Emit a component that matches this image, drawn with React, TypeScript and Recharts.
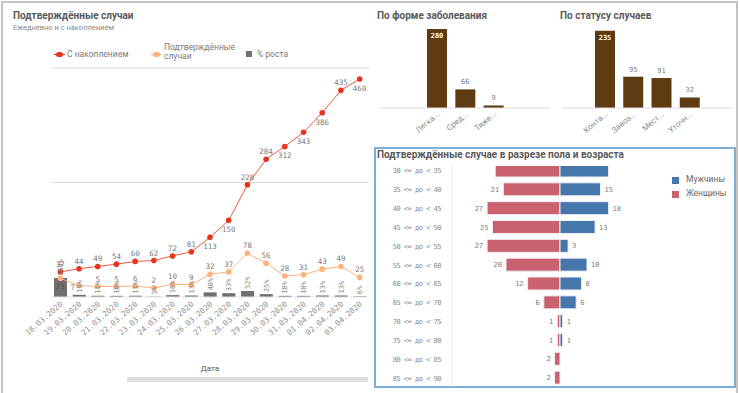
import React from 'react'
import {
  ComposedChart,
  BarChart,
  Bar,
  Line,
  XAxis,
  YAxis,
  ReferenceLine,
  LabelList,
} from 'recharts'

// --- Подтверждённые случаи (по дням)
const DATES = [
  '18.03.2020', '19.03.2020', '20.03.2020', '21.03.2020', '22.03.2020', '23.03.2020',
  '24.03.2020', '25.03.2020', '26.03.2020', '27.03.2020', '28.03.2020', '29.03.2020',
  '30.03.2020', '31.03.2020', '01.04.2020', '02.04.2020', '03.04.2020',
]
const CUMULATIVE = [37, 44, 49, 54, 60, 62, 72, 81, 113, 150, 228, 284, 312, 343, 386, 435, 460]
const DAILY = [23, 7, 5, 5, 6, 2, 10, 9, 32, 37, 78, 56, 28, 31, 43, 49, 25]
const GROWTH = [164, 19, 11, 10, 11, 3, 16, 13, 40, 33, 52, 25, 10, 10, 13, 13, 6]

// --- По форме заболевания / по статусу
const FORM_CATEGORIES = ['Легка...', 'Сред...', 'Тяже...']
const FORM_VALUES = [280, 66, 9]
const STATUS_CATEGORIES = ['Конта...', 'Завоз...', 'Мест...', 'Уточн...']
const STATUS_VALUES = [235, 95, 91, 32]

// --- Пол и возраст
const AGE_GROUPS = [
  '30 <= до < 35', '35 <= до < 40', '40 <= до < 45', '45 <= до < 50',
  '50 <= до < 55', '55 <= до < 60', '60 <= до < 65', '65 <= до < 70',
  '70 <= до < 75', '75 <= до < 80', '80 <= до < 85', '85 <= до < 90',
]
const MEN = [18, 15, 18, 13, 3, 10, 8, 6, 1, 1, 0, 0]
const WOMEN = [24, 21, 27, 25, 27, 20, 12, 6, 1, 1, 2, 2]

// cumulative labels that Qlik put under the point
const CUM_BELOW = [8, 9, 12, 13, 14, 16]

const MONO = '"DejaVu Sans Mono", monospace'
const SANS = 'Roboto, "Noto Sans", sans-serif'
const LABEL_GRAY = '#7c7c7c'

const dailyRows = DATES.map((d, i) => ({
  date: d,
  cum: CUMULATIVE[i],
  daily: DAILY[i],
  growth: GROWTH[i],
}))
const formRows = FORM_CATEGORIES.map((c, i) => ({ name: c, value: FORM_VALUES[i] }))
const statusRows = STATUS_CATEGORIES.map((c, i) => ({ name: c, value: STATUS_VALUES[i] }))
const ageRows = AGE_GROUPS.map((a, i) => ({ age: a, men: MEN[i], women: -WOMEN[i] }))

const DateTick = (props: any) => {
  const { x, y, payload } = props
  const tx = x + 3
  const ty = y
  return (
    <text
      x={tx}
      y={ty}
      transform={`rotate(-41 ${tx} ${ty})`}
      textAnchor="end"
      fontFamily={MONO}
      fontSize={7.8}
      fill="#939393"
    >
      {payload.value}
    </text>
  )
}

const CatTick = (props: any) => {
  const { x, y, payload } = props
  return (
    <text
      x={x + 3}
      y={y - 1}
      transform={`rotate(-40 ${x + 3} ${y - 1})`}
      textAnchor="end"
      fontFamily={SANS}
      fontSize={8}
      fill="#8a8a8a"
    >
      {payload.value}
    </text>
  )
}

const AgeTick = (props: any) => {
  const { x, y, payload } = props
  return (
    <text
      x={x - 3}
      y={y + 3}
      textAnchor="end"
      fontFamily={MONO}
      fontSize={7}
      letterSpacing={-0.5}
      fill="#8a8a8a"
    >
      {payload.value}
    </text>
  )
}

const cumLabel = (props: any) => {
  const { x, y, value, index } = props
  const below = CUM_BELOW.includes(index)
  return (
    <text x={x} y={below ? y + 12 : y - 5} textAnchor="middle" fontFamily={MONO} fontSize={7.5} fill={LABEL_GRAY}>
      {value}
    </text>
  )
}

const dailyLabel = (props: any) => {
  const { x, y, value, index } = props
  if (index === 0)
    return (
      <text x={x} y={y + 11} textAnchor="middle" fontFamily={MONO} fontSize={7.5} fill="#555">
        {value}
      </text>
    )
  if (index === 1)
    return (
      <text x={x - 4} y={y + 4} textAnchor="end" fontFamily={MONO} fontSize={7.5} fill={LABEL_GRAY}>
        {value}
      </text>
    )
  return (
    <text x={x} y={y - 5} textAnchor="middle" fontFamily={MONO} fontSize={7.5} fill={LABEL_GRAY}>
      {value}
    </text>
  )
}

const growthLabel = (props: any) => {
  const { x, y, width, value } = props
  const cx = x + width / 2 + 2.5
  const ty = y - 2
  return (
    <text
      x={cx}
      y={ty}
      transform={`rotate(-90 ${cx} ${ty})`}
      textAnchor="start"
      fontFamily={MONO}
      fontSize={7}
      fill="#8a8a8a"
    >
      {value}%
    </text>
  )
}

const topBarLabel = (props: any) => {
  const { x, y, width, value, index } = props
  const cx = x + width / 2
  if (index === 0)
    return (
      <text x={cx} y={y + 9} textAnchor="middle" fontFamily={MONO} fontSize={7} fontWeight="bold" fill="#fff">
        {value}
      </text>
    )
  return (
    <text x={cx} y={y - 5} textAnchor="middle" fontFamily={MONO} fontSize={7} fill={LABEL_GRAY}>
      {value}
    </text>
  )
}

// the top row is scrolled half out of view, Qlik shows no values for it
const menLabel = (props: any) => {
  const { x, y, width, height, value, index } = props
  if (!value || index === 0) return null
  const right = Math.max(x, x + width)
  return (
    <text x={right + 4} y={y + height / 2 + 2.5} fontFamily={MONO} fontSize={7} fill={LABEL_GRAY}>
      {value}
    </text>
  )
}

const womenLabel = (props: any) => {
  const { x, y, width, height, value, index } = props
  if (!value || index === 0) return null
  const left = Math.min(x, x + width)
  return (
    <text x={left - 4} y={y + height / 2 + 2.5} textAnchor="end" fontFamily={MONO} fontSize={7} fill={LABEL_GRAY}>
      {Math.abs(value)}
    </text>
  )
}

const Title = ({ x, y, children }: { x: number; y: number; children: React.ReactNode }) => (
  <div
    style={{
      position: 'absolute',
      left: x,
      top: y,
      fontFamily: SANS,
      fontWeight: 700,
      fontSize: 10,
      color: '#595959',
      whiteSpace: 'nowrap',
    }}
  >
    {children}
  </div>
)

export default function App() {
  return (
    <div
      style={{
        position: 'absolute',
        left: 0,
        top: 0,
        width: 740,
        height: 393,
        background: '#fff',
        overflow: 'hidden',
        fontFamily: SANS,
      }}
    >
      {/* outer frame */}
      <div
        style={{
          position: 'absolute',
          left: 1,
          top: 1,
          width: 733,
          height: 400,
          border: '2px solid #c4c4c4',
        }}
      />

      {/* ---------- left: подтверждённые случаи ---------- */}
      <Title x={13} y={10}>Подтверждённые случаи</Title>
      <div style={{ position: 'absolute', left: 13, top: 23, fontSize: 7.5, color: '#8a8a8a' }}>
        Ежедневно и с накоплением
      </div>

      <div style={{ position: 'absolute', left: 54, top: 47, width: 260, height: 20, fontSize: 8.5, color: '#7a7a7a' }}>
        <span style={{ position: 'absolute', left: 2, top: 5, width: 7, height: 5, borderRadius: 3, background: '#e8341c' }} />
        <span style={{ position: 'absolute', left: 0, top: 7, width: 11, height: 1, background: '#e8341c' }} />
        <span style={{ position: 'absolute', left: 13, top: 2 }}>С накоплением</span>
        <span style={{ position: 'absolute', left: 99, top: 5, width: 7, height: 5, borderRadius: 3, background: '#ffb27c' }} />
        <span style={{ position: 'absolute', left: 97, top: 7, width: 11, height: 1, background: '#ffb27c' }} />
        <span style={{ position: 'absolute', left: 110, top: -4, lineHeight: '9px' }}>
          Подтверждённые
          <br />
          случаи
        </span>
        <span style={{ position: 'absolute', left: 192, top: 4, width: 6, height: 6, background: '#707070' }} />
        <span style={{ position: 'absolute', left: 203, top: 2 }}>% роста</span>
      </div>

      <div style={{ position: 'absolute', left: 0, top: 0 }}>
        <ComposedChart width={372} height={340} data={dailyRows} margin={{ top: 68, right: 3, left: 51, bottom: 0 }}>
          <XAxis
            dataKey="date"
            height={43}
            interval={0}
            tick={<DateTick />}
            tickLine={false}
            axisLine={{ stroke: '#e4e4e4' }}
          />
          <YAxis yAxisId="line" hide domain={[-18, 484]} />
          <YAxis yAxisId="pct" hide domain={[0, 1975]} />
          <ReferenceLine yAxisId="line" y={484} stroke="#dcdcdc" />
          <ReferenceLine yAxisId="line" y={233} stroke="#dcdcdc" />
          <Bar yAxisId="pct" dataKey="growth" fill="#707070" barSize={13} isAnimationActive={false}>
            <LabelList dataKey="growth" content={growthLabel} />
          </Bar>
          <Line
            yAxisId="line"
            dataKey="daily"
            stroke="#ffb27c"
            strokeWidth={1}
            dot={{ r: 2.8, fill: '#ffb27c', stroke: 'none' }}
            isAnimationActive={false}
          >
            <LabelList dataKey="daily" content={dailyLabel} />
          </Line>
          <Line
            yAxisId="line"
            dataKey="cum"
            stroke="#ec5a3c"
            strokeWidth={1}
            dot={{ r: 2.8, fill: '#e8341c', stroke: 'none' }}
            isAnimationActive={false}
          >
            <LabelList dataKey="cum" content={cumLabel} />
          </Line>
        </ComposedChart>
      </div>

      <div style={{ position: 'absolute', left: 180, top: 364, width: 60, textAlign: 'center', fontSize: 8, color: '#555' }}>
        Дата
      </div>
      <div style={{ position: 'absolute', left: 127, top: 377, width: 241, height: 5, background: '#dedede' }} />

      {/* ---------- по форме заболевания ---------- */}
      <Title x={377} y={10}>По форме заболевания</Title>
      <div style={{ position: 'absolute', left: 380, top: 0 }}>
        <BarChart width={170} height={140} data={formRows} margin={{ top: 29, right: 0, left: 0, bottom: 0 }}>
          <XAxis
            dataKey="name"
            height={32}
            interval={0}
            padding={{ left: 43, right: 42 }}
            tick={<CatTick />}
            tickLine={false}
            axisLine={{ stroke: '#dddddd' }}
          />
          <YAxis hide domain={[0, 280]} />
          <Bar dataKey="value" fill="#5e3b10" barSize={20} isAnimationActive={false}>
            <LabelList dataKey="value" content={topBarLabel} />
          </Bar>
        </BarChart>
      </div>

      {/* ---------- по статусу случаев ---------- */}
      <Title x={560} y={10}>По статусу случаев</Title>
      <div style={{ position: 'absolute', left: 562, top: 0 }}>
        <BarChart width={170} height={140} data={statusRows} margin={{ top: 29, right: 0, left: 0, bottom: 0 }}>
          <XAxis
            dataKey="name"
            height={32}
            interval={0}
            padding={{ left: 29, right: 28 }}
            tick={<CatTick />}
            tickLine={false}
            axisLine={{ stroke: '#dddddd' }}
          />
          <YAxis hide domain={[0, 240]} />
          <Bar dataKey="value" fill="#5e3b10" barSize={20} isAnimationActive={false}>
            <LabelList dataKey="value" content={topBarLabel} />
          </Bar>
        </BarChart>
      </div>

      {/* ---------- пол и возраст ---------- */}
      <div
        style={{
          position: 'absolute',
          left: 374,
          top: 147,
          width: 358,
          height: 237,
          border: '2px solid #7ab0d4',
        }}
      />
      <Title x={377} y={149}>Подтверждённые случае в разрезе пола и возраста</Title>
      <div style={{ position: 'absolute', left: 376, top: 166, width: 300, height: 221, overflow: 'hidden' }}>
        <div style={{ position: 'absolute', left: 0, top: -5 }}>
          <BarChart
            layout="vertical"
            width={292}
            height={226}
            data={ageRows}
            stackOffset="sign"
            barCategoryGap={3}
            margin={{ top: 0, right: 0, left: 0, bottom: 0 }}
          >
            <XAxis type="number" hide domain={[-40, 40]} />
            <YAxis
              type="category"
              dataKey="age"
              width={76}
              interval={0}
              tick={<AgeTick />}
              tickLine={false}
              axisLine={{ stroke: '#e6e6e6' }}
            />
            <Bar dataKey="women" stackId="a" fill="#c9616f" stroke="#f2eef4" strokeWidth={1} barSize={13} isAnimationActive={false}>
              <LabelList dataKey="women" content={womenLabel} />
            </Bar>
            <Bar dataKey="men" stackId="a" fill="#4577ab" stroke="#eef0f6" strokeWidth={1} barSize={13} isAnimationActive={false}>
              <LabelList dataKey="men" content={menLabel} />
            </Bar>
          </BarChart>
        </div>
      </div>
      <div style={{ position: 'absolute', left: 672, top: 174, fontSize: 8.5, color: '#666' }}>
        <span style={{ position: 'absolute', left: 0, top: 3, width: 7, height: 7, background: '#4577ab' }} />
        <span style={{ position: 'absolute', left: 14, top: 0, whiteSpace: 'nowrap' }}>Мужчины</span>
        <span style={{ position: 'absolute', left: 0, top: 17, width: 7, height: 7, background: '#c9616f' }} />
        <span style={{ position: 'absolute', left: 14, top: 14, whiteSpace: 'nowrap' }}>Женщины</span>
      </div>
    </div>
  )
}
